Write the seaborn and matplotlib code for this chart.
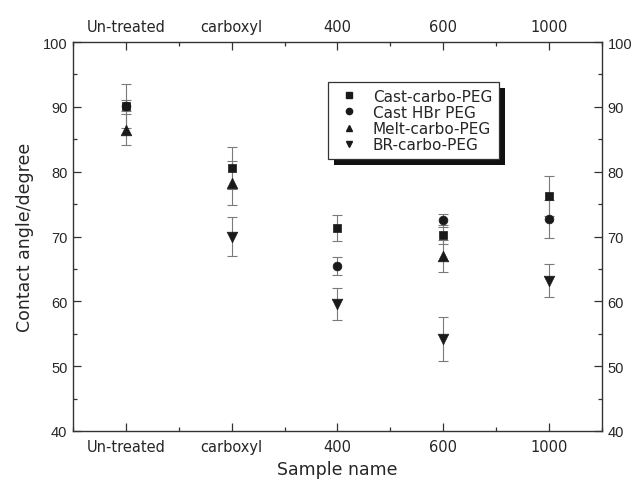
import numpy as np
import pandas as pd
import matplotlib
matplotlib.use("Agg")
import matplotlib.pyplot as plt
import seaborn as sns
from matplotlib.ticker import MultipleLocator, FixedLocator
from matplotlib.patches import Rectangle
from matplotlib.lines import Line2D

nan = np.nan
categories = ["Un-treated", "carboxyl", "400", "600", "1000"]
series_names = ["Cast-carbo-PEG", "Cast HBr PEG", "Melt-carbo-PEG", "BR-carbo-PEG"]
cast_carbo = [90.2, 80.6, 71.3, 70.3, 76.3]
cast_carbo_err = [3.4, 3.2, 2.0, 1.5, 3.1]
cast_hbr = [90.2, nan, 65.5, 72.5, 72.7]
cast_hbr_err = [0.8, nan, 1.4, 1.0, 3.0]
melt_carbo = [86.5, 78.2, nan, 67.0, nan]
melt_carbo_err = [2.4, 3.4, nan, 2.5, nan]
br_carbo = [nan, 70.0, 59.6, 54.2, 63.2]
br_carbo_err = [nan, 3.0, 2.5, 3.4, 2.6]

values = [cast_carbo, cast_hbr, melt_carbo, br_carbo]
errors = [cast_carbo_err, cast_hbr_err, melt_carbo_err, br_carbo_err]

rows = []
for name, vals, errs in zip(series_names, values, errors):
    for i, (v, e) in enumerate(zip(vals, errs)):
        rows.append({"pos": i, "sample": categories[i], "series": name, "angle": v, "err": e})
df = pd.DataFrame(rows)

sns.set_style("ticks")
plt.rcParams["font.family"] = ["Liberation Sans", "DejaVu Sans"]

fig = plt.figure(figsize=(6.38, 4.85), dpi=100)
ax = fig.add_axes([0.1144, 0.1093, 0.829, 0.802])

# error bars
for name in series_names:
    sub = df[df["series"] == name].dropna()
    ax.errorbar(sub["pos"], sub["angle"], yerr=sub["err"], fmt="none",
                ecolor="#7a7a7a", elinewidth=0.8, capsize=3.5, capthick=0.8, zorder=2)

markers = {"Cast-carbo-PEG": "s", "Cast HBr PEG": "o",
           "Melt-carbo-PEG": "^", "BR-carbo-PEG": "v"}
sizes = {"Cast-carbo-PEG": 40, "Cast HBr PEG": 40, "Melt-carbo-PEG": 58, "BR-carbo-PEG": 58}
draw_order = ["Cast HBr PEG", "Cast-carbo-PEG", "Melt-carbo-PEG", "BR-carbo-PEG"]
for name in draw_order:
    sub = df[df["series"] == name].dropna()
    sns.scatterplot(data=sub, x="pos", y="angle", marker=markers[name], s=sizes[name],
                    color="#1a1a1a", edgecolor="#1a1a1a", linewidth=0.5, ax=ax,
                    legend=False, zorder=3)

ax.set_xlim(-0.5, 4.5)
ax.set_ylim(40, 100)
ax.xaxis.set_major_locator(FixedLocator(range(len(categories))))
ax.set_xticklabels(categories, family=["DejaVu Sans"])
ax.xaxis.set_minor_locator(MultipleLocator(0.5))
ax.yaxis.set_major_locator(MultipleLocator(10))
ax.yaxis.set_minor_locator(MultipleLocator(5))
ax.tick_params(which="both", direction="in", top=True, right=True,
               labeltop=True, labelright=True, color="#333333", width=0.9)
ax.tick_params(which="major", length=6, labelsize=10.5, pad=4)
ax.tick_params(axis="x", which="major", labelsize=10.5, pad=6)
ax.tick_params(which="minor", length=3)
for s in ax.spines.values():
    s.set_color("#333333")
    s.set_linewidth(1.0)

ax.set_xlabel("Sample name", fontsize=12.5, family="DejaVu Sans", labelpad=4)
ax.set_ylabel("Contact angle/degree", fontsize=12.5, family="DejaVu Sans", labelpad=6)

handles = [Line2D([], [], linestyle="none", marker=markers[n], color="#1a1a1a",
                  markersize=4.5) for n in series_names]
leg = ax.legend(handles, series_names, loc="upper left", bbox_to_anchor=(0.482, 0.898),
                frameon=True, fancybox=False, edgecolor="#333333", framealpha=1,
                prop={"family": "DejaVu Sans", "size": 11},
                handletextpad=0.7, labelspacing=0.08, borderpad=0.45, handlelength=1.8,
                borderaxespad=0)
leg.get_frame().set_linewidth(0.9)
leg.set_zorder(5)

fig.canvas.draw()
bb = leg.get_window_extent().transformed(ax.transAxes.inverted())
off_x = 6 / (ax.bbox.width)
off_y = 6 / (ax.bbox.height)
shadow = Rectangle((bb.x0 + off_x, bb.y0 - off_y), bb.width, bb.height,
                   transform=ax.transAxes, facecolor="#111111", edgecolor="none", zorder=4)
ax.add_patch(shadow)

fig.savefig("out.png", dpi=100)
